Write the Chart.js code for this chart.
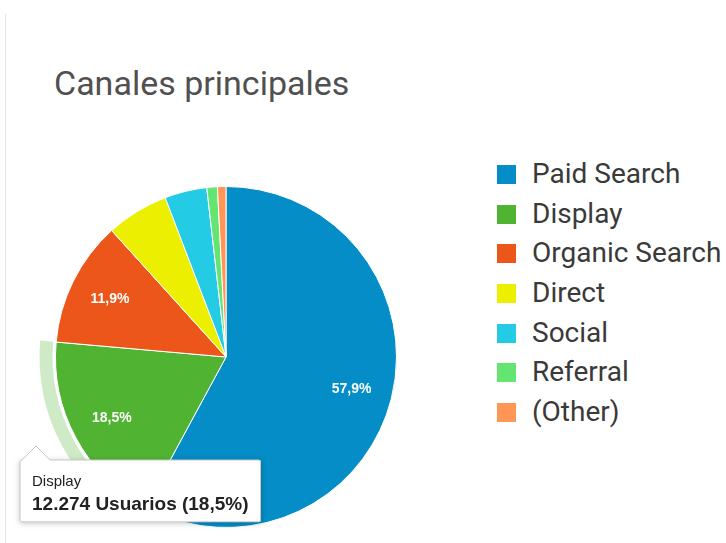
<!DOCTYPE html>
<html>
<head>
<meta charset="utf-8">
<script src="https://cdn.jsdelivr.net/npm/chart.js@4/dist/chart.umd.min.js"></script>
<style>
  body { margin: 0; background: #fff; width: 726px; height: 543px; overflow: hidden; position: relative; }
  .side-rule { position: absolute; left: 5px; top: 14px; width: 1px; height: 529px; background: #e3e3e3; }
  .titulo { position: absolute; left: 54px; top: 66px; margin: 0; font: 400 34px/34px Roboto, sans-serif; color: #505050; }
  .chart-box { position: absolute; left: 0; top: 0; width: 480px; height: 543px; }
  #leyenda { position: absolute; left: 497px; top: 154px; margin: 0; padding: 0; list-style: none; }
  #leyenda li { height: 39.7px; line-height: 39.7px; font: 400 28px/39.7px Roboto, sans-serif; color: #3a3a3a; white-space: nowrap; }
  #leyenda span { display: inline-block; width: 19px; height: 19px; margin-right: 16px; vertical-align: -1px; }
</style>
</head>
<body>
<div class="side-rule"></div>
<h2 class="titulo">Canales principales</h2>
<div class="chart-box"><canvas id="myChart" width="480" height="543"></canvas></div>
<ul id="leyenda"></ul>
<script>
var canales = ['Paid Search', 'Display', 'Organic Search', 'Direct', 'Social', 'Referral', '(Other)'];
var usuarios = [38414, 12274, 7895, 3915, 2654, 663, 531];
var colores = ['#058dc7', '#50b432', '#ed561b', '#edef00', '#24cbe5', '#64e572', '#ff9655'];

function total() {
  return usuarios.reduce(function (a, b) { return a + b; }, 0);
}
function pct(v) {
  return (v / total() * 100).toFixed(1).replace('.', ',') + '%';
}
function miles(n) {
  return String(n).replace(/\B(?=(\d{3})+(?!\d))/g, '.');
}

// halo around the hovered slice
var halo = {
  id: 'halo',
  beforeDatasetsDraw: function (chart) {
    var act = chart.tooltip.getActiveElements();
    if (!act.length) return;
    var arc = act[0].element;
    var ctx = chart.ctx;
    ctx.save();
    ctx.beginPath();
    ctx.arc(arc.x, arc.y, arc.outerRadius + 16, arc.startAngle, arc.endAngle);
    ctx.arc(arc.x, arc.y, arc.outerRadius + 3, arc.endAngle, arc.startAngle, true);
    ctx.closePath();
    ctx.fillStyle = 'rgba(80,180,50,0.28)';
    ctx.fill();
    ctx.restore();
  },
  beforeTooltipDraw: function (chart, args) {
    var t = args.tooltip;
    var ctx = chart.ctx;
    ctx.save();
    ctx.shadowColor = 'rgba(0,0,0,0.25)';
    ctx.shadowBlur = 6;
    ctx.shadowOffsetY = 1;
    ctx.fillStyle = '#fff';
    ctx.fillRect(t.x, t.y, t.width, t.height);
    ctx.restore();
  }
};

// percentage labels inside the larger slices
var etiquetas = {
  id: 'etiquetas',
  afterDatasetsDraw: function (chart) {
    var ctx = chart.ctx;
    var meta = chart.getDatasetMeta(0);
    ctx.save();
    ctx.font = 'bold 14px "Liberation Sans", Arial, sans-serif';
    ctx.fillStyle = '#ffffff';
    ctx.textAlign = 'center';
    ctx.textBaseline = 'middle';
    meta.data.forEach(function (arc, i) {
      if (usuarios[i] / total() < 0.1) return;
      var mid = (arc.startAngle + arc.endAngle) / 2;
      var r = arc.outerRadius * 0.76;
      ctx.fillText(pct(usuarios[i]), arc.x + Math.cos(mid) * r, arc.y + Math.sin(mid) * r);
    });
    ctx.restore();
  }
};

Chart.Tooltip.positioners.fijo = function () {
  return { x: 36, y: 446 };
};

function renderChart() {
  var ctx = document.getElementById('myChart').getContext('2d');
  var myChart = new Chart(ctx, {
    type: 'pie',
    data: {
      labels: canales,
      datasets: [{
        data: usuarios,
        backgroundColor: colores,
        hoverBackgroundColor: colores,
        borderColor: '#ffffff',
        borderWidth: 1,
        hoverBorderColor: '#ffffff',
        hoverOffset: 0
      }]
    },
    options: {
      responsive: false,
      animation: false,
      events: [],
      layout: { padding: { left: 55, right: 83, top: 186, bottom: 15 } },
      plugins: {
        legend: { display: false },
        tooltip: {
          position: 'fijo',
          xAlign: 'left',
          yAlign: 'top',
          backgroundColor: '#ffffff',
          borderColor: '#c8c8c8',
          borderWidth: 1,
          cornerRadius: 2,
          caretSize: 14,
          caretPadding: 0,
          displayColors: false,
          padding: { left: 12, right: 12, top: 13, bottom: 6 },
          titleColor: '#222222',
          bodyColor: '#222222',
          titleFont: { family: '"Liberation Sans", Arial, sans-serif', size: 15, weight: 'normal' },
          bodyFont: { family: '"Liberation Sans", Arial, sans-serif', size: 19, weight: 'bold' },
          titleMarginBottom: 2,
          callbacks: {
            title: function (items) { return items[0].label; },
            label: function (item) {
              return miles(item.raw) + ' Usuarios (' + pct(item.raw) + ')';
            }
          }
        }
      }
    },
    plugins: [halo, etiquetas]
  });

  // legend list
  var ul = document.getElementById('leyenda');
  canales.forEach(function (c, i) {
    var li = document.createElement('li');
    var sq = document.createElement('span');
    sq.style.background = colores[i];
    li.appendChild(sq);
    li.appendChild(document.createTextNode(c));
    ul.appendChild(li);
  });

  myChart.tooltip.setActiveElements([{ datasetIndex: 0, index: 1 }], { x: 36, y: 446 });
  myChart.update();
}

renderChart();
</script>
</body>
</html>
